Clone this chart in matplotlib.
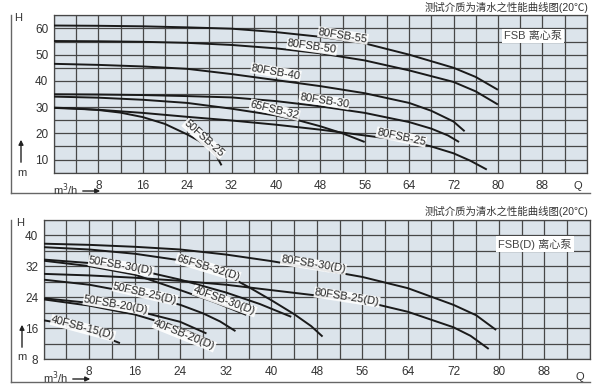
import matplotlib
matplotlib.use("Agg")
import matplotlib.pyplot as plt
from matplotlib.lines import Line2D

plt.rcParams['font.family'] = ['Liberation Sans', 'Noto Sans CJK SC', 'DejaVu Sans']

title_text = "测试介质为清水之性能曲线图(20℃)"

# ---- upper chart: FSB ----
fsb_names = ["80FSB-55", "80FSB-50", "80FSB-40", "80FSB-30", "65FSB-32", "80FSB-25", "50FSB-25"]
fsb_q = [
    [0, 8, 16, 24, 32, 40, 48, 56, 64, 72, 76, 80],
    [0, 8, 16, 24, 32, 40, 48, 56, 64, 72, 76, 80],
    [0, 8, 16, 24, 32, 40, 48, 56, 64, 68, 72, 74],
    [0, 8, 16, 24, 32, 40, 48, 56, 64, 68, 71, 73],
    [0, 8, 16, 24, 32, 40, 44, 48, 52, 56],
    [0, 8, 16, 24, 32, 40, 48, 56, 64, 68, 72, 75, 78],
    [0, 4, 8, 12, 16, 20, 24, 26, 28, 29.2, 30.2],
]
fsb_h = [
    [61.1, 61.0, 60.8, 60.4, 59.9, 58.6, 56.8, 54.3, 50.0, 45.0, 41.5, 36.6],
    [55.2, 55.1, 54.9, 54.5, 53.7, 52.4, 50.5, 47.8, 44.0, 39.6, 36.0, 31.0],
    [46.5, 46.1, 45.5, 44.6, 42.6, 40.3, 38.0, 35.3, 31.6, 28.6, 24.5, 20.8],
    [34.9, 34.8, 34.6, 34.2, 33.7, 32.3, 30.3, 27.8, 24.3, 21.8, 19.2, 16.7],
    [34.0, 33.6, 32.8, 31.6, 29.4, 26.8, 25.0, 22.7, 20.0, 16.7],
    [29.7, 29.0, 27.8, 26.3, 24.9, 23.3, 21.4, 19.2, 17.0, 15.0, 12.4, 9.6, 6.2],
    [29.8, 29.5, 28.9, 27.9, 26.2, 23.6, 19.6, 17.3, 14.5, 11.8, 7.8],
]
# label anchor (Q, H) and rotation
fsb_lab = [(52.1, 57.3, -9), (46.5, 53.0, -8), (40.0, 43.4, -10), (48.7, 32.5, -9),
           (39.8, 29.0, -14), (62.6, 18.6, -12), (27.0, 17.9, -42)]

# ---- lower chart: FSB(D) ----
fsbd_names = ["80FSB-30(D)", "65FSB-32(D)", "80FSB-25(D)", "50FSB-30(D)", "40FSB-30(D)",
              "50FSB-25(D)", "50FSB-20(D)", "40FSB-20(D)", "40FSB-15(D)"]
fsbd_q = [
    [0, 8, 16, 24, 32, 40, 48, 56, 64, 72, 76, 79.5],
    [0, 8, 16, 24, 28, 32, 36, 40, 44, 47, 49],
    [0, 8, 16, 24, 32, 40, 48, 56, 64, 72, 75, 78.2],
    [0, 8, 16, 24, 32, 38, 43.5],
    [0, 8, 16, 24, 30, 35.6],
    [0, 8, 16, 24, 28, 31, 33.7],
    [0, 8, 16, 24, 28.6],
    [0, 8, 16, 24, 29.5],
    [0, 4, 8, 13.4],
]
fsbd_h = [
    [37.8, 37.5, 37.0, 36.3, 35.0, 33.3, 31.3, 29.2, 26.3, 22.0, 19.3, 15.5],
    [36.9, 36.3, 35.2, 33.5, 32.0, 29.8, 26.6, 23.2, 19.6, 16.5, 13.8],
    [30.0, 29.6, 29.0, 28.2, 27.2, 25.8, 24.4, 23.0, 20.2, 16.2, 14.0, 10.6],
    [33.7, 32.8, 31.2, 28.5, 25.2, 22.2, 18.9],
    [33.4, 32.0, 29.8, 25.8, 22.7, 19.4],
    [28.5, 27.2, 25.0, 22.0, 19.8, 17.7, 15.2],
    [23.7, 22.5, 20.6, 17.6, 14.6],
    [23.4, 21.8, 19.5, 16.0, 12.5],
    [18.0, 17.0, 15.2, 12.1],
]
fsbd_lab = [(47.4, 32.4, -9), (28.9, 31.6, -17), (53.3, 24.0, -9), (13.6, 32.0, -10),
            (31.8, 23.0, -20), (17.8, 25.0, -13), (12.7, 22.0, -10), (24.7, 14.2, -22),
            (6.9, 16.0, -15)]

x_ticks = [8, 16, 24, 32, 40, 48, 56, 64, 72, 80, 88]
fsb_yticks = [10, 20, 30, 40, 50, 60]
fsbd_yticks = [8, 16, 24, 32, 40]

W, H = 600, 386
fig = plt.figure(figsize=(6, 3.86), dpi=100)
fig.patch.set_facecolor('white')

bg = '#dce4eb'
grid_c = '#474747'
curve_c = '#1a1a1a'
txt_c = '#333333'


def px_rect(l, t, r, b):
    return [l / W, 1 - b / H, (r - l) / W, (b - t) / H]


def setup(ax, ylim, yticks, ystep, pump_text, box_xy):
    ax.set_facecolor(bg)
    ax.set_xlim(0, 96)
    ax.set_ylim(*ylim)
    ax.set_xticks(x_ticks)
    ax.set_xticks(list(range(0, 97, 4)), minor=True)
    ax.set_yticks(yticks)
    ax.set_yticks([v for v in range(ylim[0], ylim[1] + 1, ystep)], minor=True)
    ax.grid(True, which='both', color=grid_c, linewidth=0.9)
    ax.set_axisbelow(True)
    ax.tick_params(which='both', length=0, labelsize=8.5, labelcolor=txt_c)
    ax.tick_params(axis='x', pad=5)
    ax.tick_params(axis='y', pad=4)
    for s in ax.spines.values():
        s.set_color(grid_c)
        s.set_linewidth(0.9)
    ax.text(box_xy[0], box_xy[1], pump_text, fontsize=8, color='#444444', ha='center', va='center',
            bbox=dict(facecolor='white', edgecolor='none', pad=1.5), zorder=5)


def draw_curves(ax, qs, hs, names, labs):
    for q, h, name, lab in zip(qs, hs, names, labs):
        ax.plot(q, h, color=curve_c, linewidth=1.4, solid_capstyle='butt', zorder=3)
        ax.text(lab[0], lab[1], name, fontsize=8, color='#222222', rotation=lab[2],
                rotation_mode='anchor', ha='center', va='center', zorder=4,
                bbox=dict(facecolor='white', edgecolor='none', pad=0.3, alpha=0.9))


# upper
ax1 = fig.add_axes(px_rect(53.9, 15.3, 586.7, 172.7))
setup(ax1, (5, 65), fsb_yticks, 5, "FSB 离心泵", (86.3, 57.1))
draw_curves(ax1, fsb_q, fsb_h, fsb_names, fsb_lab)

# lower
ax2 = fig.add_axes(px_rect(43.7, 219.7, 590.0, 359.0))
setup(ax2, (8, 44), fsbd_yticks, 4, "FSB(D) 离心泵", (86.3, 37.7))
draw_curves(ax2, fsbd_q, fsbd_h, fsbd_names, fsbd_lab)


def fx(x):
    return x / W


def fy(y):
    return 1 - y / H


# frames, axis names and arrows (pixel positions)
for top, bot, hx, hy, ax_x, a0, a1, mx, my, ux, uy, qx, qy, ty in [
        (15, 193, 18, 18, 21, 165, 137, 22, 173, 53, 190, 578, 186, 7.5),
        (220, 382, 20, 223, 22, 350, 322, 22, 357, 43, 378, 580, 377, 211)]:
    fig.add_artist(Line2D([fx(11), fx(11)], [fy(top), fy(bot)], color='#666666', lw=1.0))
    fig.add_artist(Line2D([fx(11), fx(590)], [fy(bot), fy(bot)], color='#666666', lw=1.0))
    fig.text(fx(hx), fy(hy), "H", fontsize=8, color=txt_c, ha='center', va='center')
    fig.text(fx(mx), fy(my), "m", fontsize=8, color=txt_c, ha='center', va='center')
    fig.text(fx(qx), fy(qy), "Q", fontsize=8, color=txt_c, ha='center', va='center')
    fig.text(fx(ux), fy(uy), "m$^3$/h", fontsize=8, color=txt_c, ha='left', va='center')
    fig.text(fx(588), fy(ty), title_text, fontsize=7.5, color=txt_c, ha='right', va='center')
    plt.annotate("", xy=(fx(ax_x), fy(a1)), xytext=(fx(ax_x), fy(a0)), xycoords='figure fraction',
                 arrowprops=dict(arrowstyle='-|>', color='#222222', lw=1.0, mutation_scale=7))
    plt.annotate("", xy=(fx(ux + 50), fy(uy + 1)), xytext=(fx(ux + 27), fy(uy + 1)),
                 xycoords='figure fraction',
                 arrowprops=dict(arrowstyle='-|>', color='#222222', lw=1.0, mutation_scale=7))

fig.savefig("out.png", dpi=100)
